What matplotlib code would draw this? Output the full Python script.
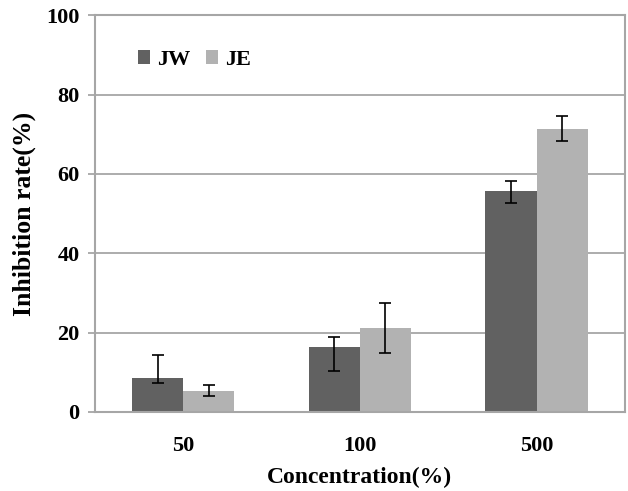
import numpy as np
import matplotlib.pyplot as plt
from matplotlib.patches import Patch

# ── Data ──────────────────────────────────────────────────────────────────────
concentrations = ['50', '100', '500']
jw_mean = [8.5, 16.4, 55.7]
jw_err_lo = [1.3, 6.1, 3.1]
jw_err_hi = [5.8, 2.4, 2.4]
je_mean = [5.2, 21.1, 71.4]
je_err_lo = [1.2, 6.2, 3.0]
je_err_hi = [1.6, 6.3, 3.3]

JW_COLOR = '#616161'
JE_COLOR = '#b2b2b2'
GRID_COLOR = '#a6a6a6'

plt.rcParams['font.family'] = ['Liberation Serif', 'DejaVu Serif']
plt.rcParams['font.weight'] = 'bold'

fig = plt.figure(figsize=(6.28, 4.91), dpi=100)
ax = fig.add_axes([0.151, 0.161, 0.844, 0.808])

x = np.arange(len(concentrations))
w = 0.29
err_kw = dict(ecolor='black', elinewidth=1.2, capsize=4, capthick=1.2)
ax.bar(x - w / 2, jw_mean, w, color=JW_COLOR, zorder=2,
       yerr=[jw_err_lo, jw_err_hi], error_kw=err_kw)
ax.bar(x + w / 2, je_mean, w, color=JE_COLOR, zorder=2,
       yerr=[je_err_lo, je_err_hi], error_kw=err_kw)

ax.set_xlim(-0.5, 2.5)
ax.set_ylim(0, 100)
ax.set_yticks(np.arange(0, 101, 20))
ax.set_xticks(x)
ax.set_xticklabels(concentrations)
ax.yaxis.grid(True, color=GRID_COLOR, linewidth=1.3, zorder=0)
ax.set_axisbelow(True)

for s in ax.spines.values():
    s.set_color(GRID_COLOR)
    s.set_linewidth(1.5)

ax.tick_params(axis='y', length=5, width=1.3, color=GRID_COLOR, labelsize=16, pad=6)
ax.tick_params(axis='x', length=0, labelsize=16, pad=17)

ax.set_xlabel('Concentration(%)', fontsize=17, fontweight='bold', labelpad=8)
ax.set_ylabel('Inhibition rate(%)', fontsize=18.5, fontweight='bold', labelpad=7)

handles = [Patch(facecolor=JW_COLOR), Patch(facecolor=JE_COLOR)]
ax.legend(handles, ['JW', 'JE'], loc='upper left', bbox_to_anchor=(0.065, 0.935),
          ncol=2, frameon=False, fontsize=16, handlelength=0.55, handleheight=0.55,
          handletextpad=0.3, columnspacing=0.7, borderaxespad=0)

fig.savefig('out.png', dpi=100)
